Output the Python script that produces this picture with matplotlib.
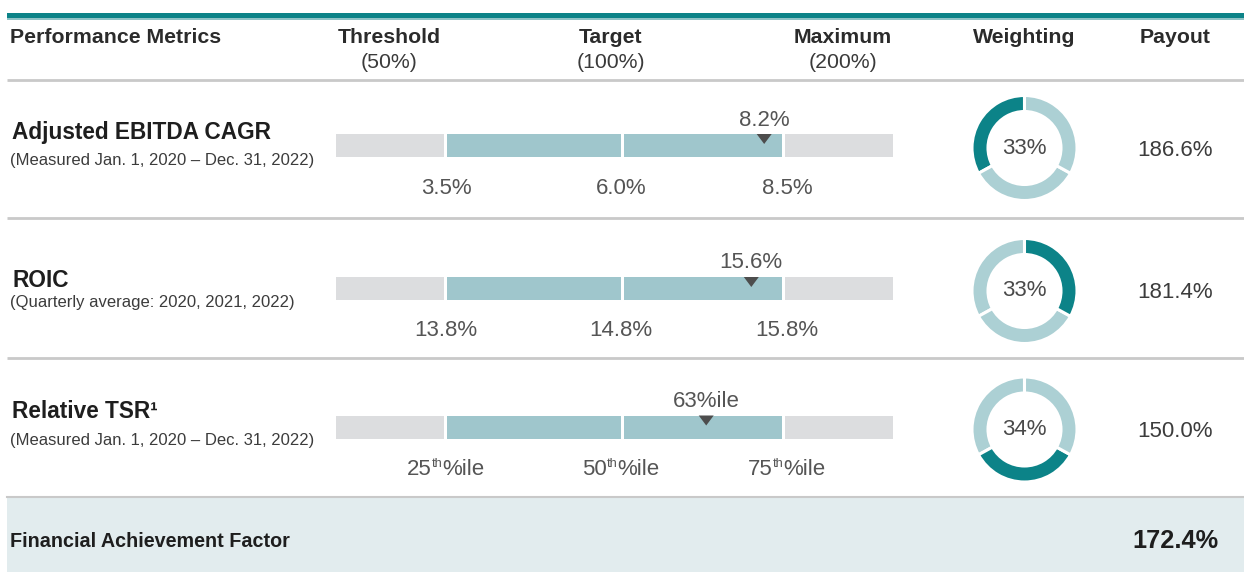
import numpy as np
import matplotlib
matplotlib.use("Agg")
import matplotlib.pyplot as plt
from matplotlib.patches import Rectangle, Polygon

plt.rcParams['font.family'] = ['Liberation Sans', 'DejaVu Sans']

# ---------------- data ----------------
metrics = ["Adjusted EBITDA CAGR", "ROIC", "Relative TSR\u00b9"]
periods = ["(Measured Jan. 1, 2020 \u2013 Dec. 31, 2022)",
           "(Quarterly average: 2020, 2021, 2022)",
           "(Measured Jan. 1, 2020 \u2013 Dec. 31, 2022)"]
threshold = [3.5, 13.8, 25]
target = [6.0, 14.8, 50]
maximum = [8.5, 15.8, 75]
actual = [8.2, 15.6, 63]
units = ["pct", "pct", "pctile"]
weighting = [33, 33, 34]
payout = [186.6, 181.4, 150.0]
levels = ["Threshold", "Target", "Maximum"]
level_payouts = [50, 100, 200]
factor_label = "Financial Achievement Factor"
factor_value = 172.4

# ---------------- style / layout ----------------
W, H = 1244, 572
TEAL = "#0c8388"
TEAL_LIGHT = "#acd0d4"
BAR_TEAL = "#9fc6cc"
BAR_GRAY = "#dcdddf"
LINE = "#c9c9c9"
FOOT = "#e2ecee"
DARK = "#2b2b2b"
GRAY = "#555555"

fig = plt.figure(figsize=(W / 100, H / 100), dpi=100)
ax = fig.add_axes([0, 0, 1, 1])
ax.set_xlim(0, W)
ax.set_ylim(H, 0)
ax.axis("off")
renderer = fig.canvas.get_renderer()

# top rule
ax.add_patch(Rectangle((7, 13), W - 7, 5.3, color=TEAL, lw=0))
ax.add_patch(Rectangle((7, 18.3), W - 7, 1.6, color="#8fc3c6", lw=0))

# header
ax.text(10, 37.5, "Performance Metrics", fontsize=15.3, fontweight="bold",
        color=DARK, ha="left", va="center")
level_x = [389, 611, 843]
for lx, name, pp in zip(level_x, levels, level_payouts):
    ax.text(lx, 37.5, name, fontsize=15.3, fontweight="bold", color=DARK,
            ha="center", va="center")
    ax.text(lx, 62.5, f"({pp}%)", fontsize=15.3, color="#3a3a3a",
            ha="center", va="center")
ax.text(1024, 37.5, "Weighting", fontsize=15.3, fontweight="bold", color=DARK,
        ha="center", va="center")
ax.text(1175, 37.5, "Payout", fontsize=15.3, fontweight="bold", color=DARK,
        ha="center", va="center")

# separators
for y in [80, 217.5, 358]:
    ax.plot([7, W], [y, y], color=LINE, lw=2.0, solid_capstyle="butt")

# footer band
ax.add_patch(Rectangle((7, 497), W - 7, H - 497, color=FOOT, lw=0))
ax.plot([7, W], [497, 497], color=LINE, lw=1.5)
ax.text(10, 541.5, factor_label, fontsize=14.2, fontweight="bold",
        color="#1e1e1e", ha="left", va="center")
ax.text(1218, 541.5, f"{factor_value:.1f}%", fontsize=18.3, fontweight="bold",
        color="#1e1e1e", ha="right", va="center")

# bar geometry (pixels)
seg_edges = [336, 445.5, 622.5, 783.5, 893]
gap = 3.0
bar_h = 23
label_x = [446, 621, 787]
row_c = [145.5, 288.5, 427]
title_dy = [-12.5, -8, -15]
sub_dy = [14.5, 14.5, 14]


def text_width(s, size):
    t = ax.text(0, 0, s, fontsize=size)
    w = t.get_window_extent(renderer=renderer).width
    t.remove()
    return w


def pctile_label(x, y, v, size=16, color=GRAY):
    main, sup, tail = f"{v:g}", "th", "%ile"
    sup_size = size * 0.58
    w1 = text_width(main, size)
    w2 = text_width(sup, sup_size)
    w3 = text_width(tail, size)
    x0 = x - (w1 + w2 + w3) / 2
    ax.text(x0, y, main, fontsize=size, color=color, ha="left", va="center")
    ax.text(x0 + w1, y - 5.5, sup, fontsize=sup_size, color=color,
            ha="left", va="center")
    ax.text(x0 + w1 + w2, y, tail, fontsize=size, color=color,
            ha="left", va="center")


def fmt_actual(v, unit):
    if unit == "pct":
        return f"{v:.1f}%"
    return f"{v:g}%ile"


# donut ordering: pie drawn counter-clockwise from 12 o'clock
pie_order = [0, 2, 1]
R = 52.5
ring_w = 16

for i in range(len(metrics)):
    c = row_c[i]
    ax.text(12, c + title_dy[i], metrics[i], fontsize=16.3, fontweight="bold",
            color="#1e1e1e", ha="left", va="center")
    ax.text(10, c + sub_dy[i], periods[i], fontsize=12, color="#3c3c3c",
            ha="left", va="center")

    colors = [BAR_GRAY, BAR_TEAL, BAR_TEAL, BAR_GRAY]
    for k in range(4):
        x0 = seg_edges[k] + (gap / 2 if k > 0 else 0)
        x1 = seg_edges[k + 1] - (gap / 2 if k < 3 else 0)
        ax.add_patch(Rectangle((x0, c - bar_h / 2), x1 - x0, bar_h,
                               color=colors[k], lw=0))

    lv = [threshold[i], target[i], maximum[i]]
    for lx, v in zip(label_x, lv):
        if units[i] == "pct":
            ax.text(lx, c + 42.5, f"{v:.1f}%", fontsize=16, color=GRAY,
                    ha="center", va="center")
        else:
            pctile_label(lx, c + 42.5, v)

    mx = np.interp(actual[i], lv, seg_edges[1:4])
    top = c - bar_h / 2
    ax.add_patch(Polygon([[mx - 7.5, top], [mx + 7.5, top], [mx, top + 10]],
                         closed=True, color="#4d4d4d", lw=0))
    ax.text(mx, c - 25.5, fmt_actual(actual[i], units[i]), fontsize=16,
            color=GRAY, ha="center", va="center")

    # donut
    cx, cy = 1024.5, c + 2.5
    dax = fig.add_axes([(cx - R - 2) / W, 1 - (cy + R + 2) / H,
                        (2 * R + 4) / W, (2 * R + 4) / H])
    vals = [weighting[j] for j in pie_order]
    cols = [TEAL if j == i else TEAL_LIGHT for j in pie_order]
    dax.pie(vals, colors=cols, startangle=90, counterclock=True,
            radius=1.0,
            wedgeprops=dict(width=ring_w / R, edgecolor="white", linewidth=2.2))
    lim = (R + 2) / R
    dax.set_xlim(-lim, lim)
    dax.set_ylim(-lim, lim)
    dax.set_aspect("equal")
    dax.axis("off")
    ax.text(cx, cy, f"{weighting[i]}%", fontsize=16, color="#4a4a4a",
            ha="center", va="center")

    ax.text(1175, c + 4.5, f"{payout[i]:.1f}%", fontsize=16, color="#3c3c3c",
            ha="center", va="center")

fig.savefig("out.png", dpi=100)
